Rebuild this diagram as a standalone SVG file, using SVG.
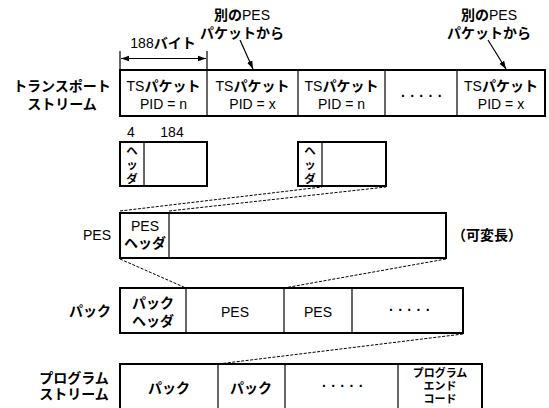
<svg xmlns="http://www.w3.org/2000/svg" width="549" height="408" viewBox="0 0 549 408">
<defs>
<style>
text{font-family:"Liberation Sans","Noto Sans CJK JP",sans-serif;fill:#000;}
.t{font-size:14px;}
.c{text-anchor:middle;}
.e{text-anchor:end;}
.b{font-weight:bold;}
.v{font-size:11.5px;font-weight:bold;text-anchor:middle;}
.d{font-size:14px;font-weight:bold;letter-spacing:4.5px;}
.s{font-size:11px;font-weight:bold;}
.box{fill:#fff;stroke:#000;stroke-width:2;}
.div{stroke:#000;stroke-width:1.2;fill:none;}
.dash{stroke:#000;stroke-width:1;stroke-dasharray:3,1.5;fill:none;}
.ln{stroke:#000;stroke-width:1.2;fill:none;}
</style>
<marker id="ah" viewBox="0 0 10 10" refX="10" refY="5" markerWidth="8" markerHeight="8" markerUnits="userSpaceOnUse" orient="auto-start-reverse">
<path d="M0,1.5 L10,5 L0,8.5 Z" fill="#000"/>
</marker>
</defs>

<g id="connectors">
<line class="ln" x1="120" y1="51" x2="120" y2="70"/>
<line class="ln" x1="207" y1="51" x2="207" y2="70"/>
<line class="ln" x1="121" y1="58.5" x2="206" y2="58.5" marker-start="url(#ah)" marker-end="url(#ah)"/>
<line class="ln" x1="240" y1="40" x2="253" y2="69" marker-end="url(#ah)"/>
<line class="ln" x1="488" y1="40" x2="506" y2="69" marker-end="url(#ah)"/>
<line class="dash" x1="120" y1="211" x2="322" y2="187"/>
<line class="dash" x1="169" y1="211" x2="386" y2="187"/>
<line class="dash" x1="120" y1="259" x2="186" y2="288"/>
<line class="dash" x1="446" y1="259" x2="284" y2="288"/>
<line class="dash" x1="463" y1="334" x2="218" y2="364"/>
</g>

<g id="label-188">
<text class="t c" x="163" y="48"><tspan>188</tspan><tspan class="b">バイト</tspan></text>
</g>
<g id="label-other1">
<text class="t c" x="242" y="20"><tspan class="b">別の</tspan><tspan>PES</tspan></text>
<text class="t c b" x="242" y="38">パケットから</text>
</g>
<g id="label-other2">
<text class="t c" x="489" y="20"><tspan class="b">別の</tspan><tspan>PES</tspan></text>
<text class="t c b" x="489" y="38">パケットから</text>
</g>

<g id="ts-label">
<text class="t c b" x="62" y="91">トランスポート</text>
<text class="t c b" x="62" y="109">ストリーム</text>
</g>
<g id="ts-stream">
<rect class="box" x="120" y="70" width="425" height="46"/>
<line class="div" x1="207" y1="70" x2="207" y2="116"/>
<line class="div" x1="298" y1="70" x2="298" y2="116"/>
<line class="div" x1="385" y1="70" x2="385" y2="116"/>
<line class="div" x1="457" y1="70" x2="457" y2="116"/>
<text class="t c" x="163.5" y="91"><tspan>TS</tspan><tspan class="b">パケット</tspan></text>
<text class="t c" x="163.5" y="109">PID = n</text>
<text class="t c" x="252.5" y="91"><tspan>TS</tspan><tspan class="b">パケット</tspan></text>
<text class="t c" x="252.5" y="109">PID = x</text>
<text class="t c" x="341.5" y="91"><tspan>TS</tspan><tspan class="b">パケット</tspan></text>
<text class="t c" x="341.5" y="109">PID = n</text>
<text class="d" x="401" y="101">·····</text>
<text class="t c" x="501" y="91"><tspan>TS</tspan><tspan class="b">パケット</tspan></text>
<text class="t c" x="501" y="109">PID = x</text>
</g>

<g id="ts-packet1">
<text class="t c" x="131" y="137">4</text>
<text class="t c" x="172" y="137">184</text>
<rect class="box" x="120" y="142" width="87" height="44"/>
<line class="div" x1="144" y1="142" x2="144" y2="186"/>
<text class="v" x="132" y="155">ヘ</text>
<text class="v" x="132" y="169">ッ</text>
<text class="v" x="132" y="183">ダ</text>
</g>
<g id="ts-packet2">
<rect class="box" x="298" y="142" width="88" height="44"/>
<line class="div" x1="322" y1="142" x2="322" y2="186"/>
<text class="v" x="310" y="155">ヘ</text>
<text class="v" x="310" y="169">ッ</text>
<text class="v" x="310" y="183">ダ</text>
</g>

<g id="pes-label">
<text class="t c" x="97" y="240">PES</text>
</g>
<g id="pes">
<rect class="box" x="120" y="213" width="326" height="45"/>
<line class="div" x1="169" y1="213" x2="169" y2="258"/>
<text class="t c" x="145" y="231">PES</text>
<text class="t c b" x="145" y="248">ヘッダ</text>
</g>
<g id="pes-var">
<text class="t b" x="452" y="240">（可変長）</text>
</g>

<g id="pack-label">
<text class="t e b" x="111" y="316">パック</text>
</g>
<g id="pack">
<rect class="box" x="120" y="288" width="343" height="45"/>
<line class="div" x1="186" y1="288" x2="186" y2="333"/>
<line class="div" x1="284" y1="288" x2="284" y2="333"/>
<line class="div" x1="352" y1="288" x2="352" y2="333"/>
<text class="t c b" x="153" y="308">パック</text>
<text class="t c b" x="153" y="326">ヘッダ</text>
<text class="t c" x="235" y="317">PES</text>
<text class="t c" x="318" y="317">PES</text>
<text class="d" x="389" y="315">·····</text>
</g>

<g id="ps-label">
<text class="t c b" x="74" y="383">プログラム</text>
<text class="t c b" x="74" y="399">ストリーム</text>
</g>
<g id="program-stream">
<rect class="box" x="120" y="364" width="362" height="50"/>
<line class="div" x1="218" y1="364" x2="218" y2="414"/>
<line class="div" x1="285" y1="364" x2="285" y2="414"/>
<line class="div" x1="398" y1="364" x2="398" y2="414"/>
<text class="t c b" x="169" y="393">パック</text>
<text class="t c b" x="251" y="393">パック</text>
<text class="d" x="322" y="391">·····</text>
<text class="s c" x="440" y="377">プログラム</text>
<text class="s c" x="440" y="390">エンド</text>
<text class="s c" x="440" y="403">コード</text>
</g>
</svg>
